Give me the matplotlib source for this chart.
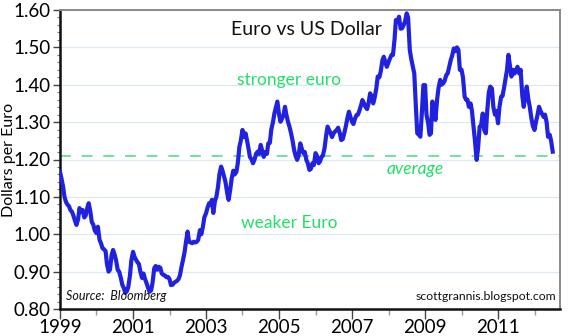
import matplotlib
matplotlib.use("Agg")
import matplotlib.pyplot as plt
from matplotlib.ticker import MultipleLocator, FormatStrFormatter
import pandas as pd

# Semi-monthly EUR/USD closes (1st and 15th of each month)
rates_1999 = [1.167, 1.15, 1.127, 1.10, 1.087, 1.08, 1.075, 1.065, 1.06, 1.05, 1.035, 1.025,
              1.04, 1.07, 1.06, 1.065, 1.045, 1.05, 1.07, 1.083, 1.06, 1.033, 1.025, 1.01]
rates_2000 = [1.003, 1.02, 0.985, 0.976, 0.963, 0.96, 0.955, 0.92, 0.90, 0.905, 0.945, 0.958,
              0.945, 0.93, 0.904, 0.90, 0.883, 0.865, 0.856, 0.843, 0.848, 0.86, 0.89, 0.93]
rates_2001 = [0.953, 0.94, 0.931, 0.925, 0.92, 0.90, 0.883, 0.895, 0.88, 0.87, 0.856, 0.846,
              0.85, 0.87, 0.909, 0.915, 0.905, 0.913, 0.91, 0.895, 0.891, 0.89, 0.885, 0.886]
rates_2002 = [0.88, 0.864, 0.865, 0.87, 0.873, 0.875, 0.88, 0.89, 0.913, 0.93, 0.953, 0.98,
              1.007, 0.98, 0.978, 0.976, 0.98, 0.978, 0.98, 0.985, 1.011, 1.00, 1.02, 1.045]
rates_2003 = [1.056, 1.07, 1.083, 1.08, 1.092, 1.057, 1.09, 1.10, 1.127, 1.16, 1.181, 1.17,
              1.154, 1.14, 1.11, 1.092, 1.12, 1.15, 1.17, 1.16, 1.167, 1.19, 1.234, 1.25]
rates_2004 = [1.279, 1.26, 1.27, 1.252, 1.23, 1.207, 1.20, 1.19, 1.20, 1.215, 1.221, 1.215,
              1.239, 1.225, 1.207, 1.22, 1.215, 1.243, 1.245, 1.28, 1.30, 1.323, 1.34, 1.355]
rates_2005 = [1.32, 1.301, 1.31, 1.32, 1.341, 1.32, 1.30, 1.288, 1.27, 1.252, 1.225, 1.21,
              1.199, 1.21, 1.243, 1.23, 1.217, 1.22, 1.199, 1.19, 1.172, 1.175, 1.19, 1.185]
rates_2006 = [1.217, 1.21, 1.19, 1.195, 1.207, 1.21, 1.23, 1.26, 1.288, 1.28, 1.27, 1.26,
              1.27, 1.275, 1.279, 1.285, 1.27, 1.252, 1.255, 1.27, 1.29, 1.31, 1.328, 1.315]
rates_2007 = [1.301, 1.295, 1.31, 1.319, 1.32, 1.33, 1.345, 1.359, 1.35, 1.341, 1.335, 1.35,
              1.377, 1.37, 1.35, 1.365, 1.39, 1.422, 1.42, 1.435, 1.465, 1.475, 1.46, 1.448]
rates_2008 = [1.46, 1.47, 1.48, 1.48, 1.52, 1.573, 1.57, 1.582, 1.55, 1.551, 1.56, 1.57,
              1.591, 1.58, 1.493, 1.47, 1.448, 1.43, 1.341, 1.27, 1.266, 1.261, 1.33, 1.399]
rates_2009 = [1.399, 1.32, 1.297, 1.266, 1.27, 1.355, 1.33, 1.306, 1.36, 1.39, 1.413, 1.40,
              1.404, 1.41, 1.426, 1.43, 1.45, 1.466, 1.48, 1.497, 1.49, 1.50, 1.493, 1.44]
rates_2010 = [1.44, 1.42, 1.368, 1.36, 1.36, 1.341, 1.35, 1.33, 1.288, 1.25, 1.199, 1.23,
              1.288, 1.29, 1.323, 1.28, 1.27, 1.33, 1.38, 1.395, 1.39, 1.341, 1.32, 1.33]
rates_2011 = [1.297, 1.34, 1.368, 1.37, 1.39, 1.413, 1.44, 1.48, 1.45, 1.422, 1.44, 1.43,
              1.44, 1.448, 1.43, 1.44, 1.37, 1.341, 1.37, 1.395, 1.36, 1.34, 1.31, 1.29]
rates_2012 = [1.279, 1.30, 1.32, 1.341, 1.33, 1.323, 1.314, 1.32, 1.30, 1.261, 1.266, 1.25,
              1.221]

average_rate = 1.21
y_ticks = [0.80, 0.90, 1.00, 1.10, 1.20, 1.30, 1.40, 1.50, 1.60]
x_tick_years = [1999, 2001, 2003, 2005, 2007, 2009, 2011]

rates = (rates_1999 + rates_2000 + rates_2001 + rates_2002 + rates_2003 + rates_2004
         + rates_2005 + rates_2006 + rates_2007 + rates_2008 + rates_2009 + rates_2010
         + rates_2011 + rates_2012)
dates = pd.date_range("1999-01-01", periods=len(rates), freq="SMS")

plt.rcParams["font.family"] = ["Lato", "DejaVu Sans"]

fig = plt.figure(figsize=(5.7, 3.36), dpi=100)
ax = fig.add_axes([60 / 570, 1 - 309 / 336, 500 / 570, 299 / 336])

ax.set_ylim(0.80, 1.60)
ax.set_xlim(pd.Timestamp("1999-01-01"), pd.Timestamp("2012-09-12"))

for y in y_ticks:
    ax.axhline(y, color="#dce8f2", lw=0.9, zorder=0)

ax.axhline(average_rate, color="#66dd99", lw=1.3, dashes=(6, 6), zorder=1)
ax.plot(dates, rates, color="#2121e0", lw=3.0, solid_joinstyle="round", zorder=3)

# Axes frame
for side in ("left", "bottom"):
    ax.spines[side].set_color("#111111")
    ax.spines[side].set_linewidth(1.8)
for side in ("top", "right"):
    ax.spines[side].set_color("#8a8a8a")
    ax.spines[side].set_linewidth(1.4)

ax.set_yticks(y_ticks)
ax.yaxis.set_major_formatter(FormatStrFormatter("%.2f"))
ax.yaxis.set_minor_locator(MultipleLocator(0.02))
ax.tick_params(axis="y", which="major", length=5, width=1, color="#444444",
               labelsize=13.5, pad=2)
ax.tick_params(axis="y", which="minor", length=2.5, width=0.8, color="#777777")

ax.set_xticks([pd.Timestamp(f"{y}-01-01") for y in x_tick_years])
ax.set_xticklabels([str(y) for y in x_tick_years])
ax.set_xticks([pd.Timestamp(f"{y}-01-01") for y in range(2000, 2013, 2)], minor=True)
ax.tick_params(axis="x", which="major", length=7, width=1, color="#444444",
               labelsize=13.5, pad=0.5)
ax.tick_params(axis="x", which="minor", length=4, width=1, color="#999999")

ax.set_ylabel("Dollars per Euro", fontsize=11.5)
ax.yaxis.set_label_coords(-0.088, 0.5)

green = "#22e066"
ax.text(0.492, 0.935, "Euro vs US Dollar", transform=ax.transAxes, ha="center",
        va="center", fontsize=14, color="#111111")
ax.text(pd.Timestamp("2005-04-15"), 1.413, "stronger euro", ha="center", va="center",
        fontsize=12.5, color=green)
ax.text(pd.Timestamp("2005-04-15"), 1.03, "weaker Euro", ha="center", va="center",
        fontsize=12.5, color=green)
ax.text(pd.Timestamp("2008-09-25"), 1.175, "average", ha="center", va="center",
        fontsize=12.5, color=green, style="italic")
ax.text(0.012, 0.025, "Source:  Bloomberg", transform=ax.transAxes, ha="left",
        va="bottom", fontsize=9, style="italic", color="#111111")
ax.text(0.993, 0.025, "scottgrannis.blogspot.com", transform=ax.transAxes, ha="right",
        va="bottom", fontsize=8.8, color="#111111")

fig.savefig("out.png", dpi=100)
